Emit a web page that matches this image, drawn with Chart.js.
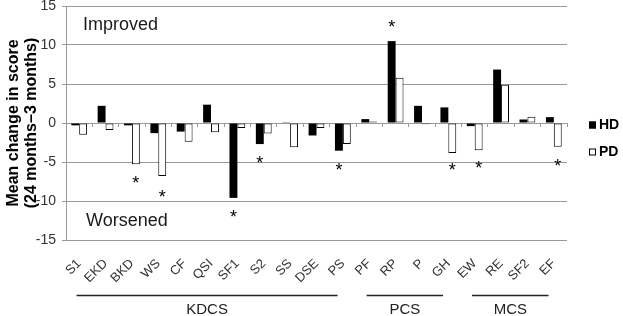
<!DOCTYPE html>
<html>
<head>
<meta charset="utf-8">
<script src="https://cdn.jsdelivr.net/npm/chart.js@4.4.0/dist/chart.umd.min.js"></script>
<style>
  html, body { margin: 0; padding: 0; background: #fff; }
</style>
</head>
<body>
<canvas id="myChart" width="623" height="316"></canvas>
<script>
// data
const categories = ['S1', 'EKD', 'BKD', 'WS', 'CF', 'QSI', 'SF1', 'S2', 'SS', 'DSE', 'PS',
  'PF', 'RP', 'P', 'GH', 'EW', 'RE', 'SF2', 'EF'];
const hdValues = [-0.3, 2.2, -0.3, -1.3, -1.1, 2.35, -9.6, -2.7, 0.1, -1.6, -3.55,
  0.5, 10.5, 2.2, 2.0, -0.4, 6.85, 0.45, 0.75];
const pdValues = [-1.5, -0.9, -5.3, -6.8, -2.4, -1.2, -0.65, -1.35, -3.1, -0.65, -2.7,
  0.2, 5.8, -0.15, -3.85, -3.5, 4.9, 0.8, -3.05];
// significance markers: which bar, and at what value
const starSeries = [null, null, 'PD', 'PD', null, null, 'HD', 'HD', null, null, 'HD',
  null, 'HD', null, 'PD', 'PD', null, null, 'PD'];
const starValues = [null, null, -7.2, -9.0, null, null, -11.6, -4.65, null, null, -5.55,
  null, 12.8, null, -5.6, -5.35, null, null, -5.1];
const groupNames = ['KDCS', 'PCS', 'MCS'];
const groupFirst = [0, 11, 15];
const groupLast = [10, 14, 18];
const yTicks = [-15, -10, -5, 0, 5, 10, 15];

const FONT = "'Liberation Sans', Arial, sans-serif";
const gridColor = '#9a9a9a';

const extras = {
  id: 'extras',
  afterDatasetsDraw(chart) {
    const c = chart.ctx;
    const x = chart.scales.x, y = chart.scales.y;
    const area = chart.chartArea;
    c.save();

    // asterisks
    c.fillStyle = '#000';
    c.font = '18px ' + FONT;
    c.textAlign = 'center';
    c.textBaseline = 'alphabetic';
    const m = c.measureText('*');
    const shift = (m.actualBoundingBoxAscent - m.actualBoundingBoxDescent) / 2;
    starSeries.forEach((s, i) => {
      if (!s) return;
      const dsIndex = chart.data.datasets.findIndex(d => d.label === s);
      const bar = chart.getDatasetMeta(dsIndex).data[i];
      c.fillText('*', bar.x, y.getPixelForValue(starValues[i]) + shift);
    });

    // Improved / Worsened
    c.fillStyle = '#1a1a1a';
    c.font = '18px ' + FONT;
    c.textAlign = 'left';
    c.textBaseline = 'middle';
    c.fillText('Improved', area.left + 17, y.getPixelForValue(12.5));
    c.fillText('Worsened', area.left + 20, y.getPixelForValue(-12.6));

    // group brackets under the axis
    c.strokeStyle = '#222';
    c.lineWidth = 1.5;
    c.fillStyle = '#222';
    c.font = '15px ' + FONT;
    c.textAlign = 'center';
    groupNames.forEach((name, g) => {
      const x1 = x.getPixelForValue(groupFirst[g] - 0.1);
      const x2 = x.getPixelForValue(groupLast[g] - 0.2);
      const ly = area.bottom + 55.5;
      c.beginPath();
      c.moveTo(x1, ly);
      c.lineTo(x2, ly);
      c.stroke();
      c.fillText(name, (x1 + x2) / 2, area.bottom + 70);
    });

    // legend
    c.font = 'bold 14px ' + FONT;
    c.textAlign = 'left';
    c.textBaseline = 'middle';
    chart.data.datasets.forEach((ds, i) => {
      const ly = 125 + i * 27;
      const lx = area.right + 22;
      c.fillStyle = ds.backgroundColor;
      c.fillRect(lx, ly - 3.5, 7, 7);
      c.strokeStyle = '#000';
      c.lineWidth = 1;
      c.strokeRect(lx + 0.5, ly - 3, 6, 6);
      c.fillStyle = '#000';
      c.fillText(ds.label, lx + 10, ly + 0.5);
    });
    c.restore();
  }
};

const ctx = document.getElementById('myChart').getContext('2d');
const myChart = new Chart(ctx, {
  type: 'bar',
  data: {
    labels: categories,
    datasets: [{
      label: 'HD',
      data: hdValues,
      backgroundColor: '#000000',
      borderWidth: 0
    }, {
      label: 'PD',
      data: pdValues,
      backgroundColor: '#ffffff',
      borderColor: '#000000',
      borderWidth: 1,
      borderSkipped: false
    }]
  },
  options: {
    responsive: false,
    animation: false,
    layout: { padding: { top: 6, right: 56, left: 0, bottom: 0 } },
    datasets: { bar: { categoryPercentage: 0.6, barPercentage: 1 } },
    plugins: {
      legend: { display: false },
      tooltip: { enabled: false }
    },
    scales: {
      x: {
        grid: { display: false },
        border: { display: false },
        ticks: {
          autoSkip: false,
          maxRotation: 45,
          minRotation: 45,
          padding: 8,
          color: '#333',
          font: { family: FONT, size: 13 }
        },
        afterFit: s => { s.height = 76; s.paddingLeft = 0; s.paddingRight = 0; }
      },
      x2: {
        type: 'category',
        labels: categories,
        position: { y: 0 },
        offset: true,
        grid: { offset: true, drawOnChartArea: false, drawTicks: true, tickLength: 4, color: gridColor },
        ticks: { display: false },
        border: { display: false }
      },
      y: {
        min: -15,
        max: 15,
        afterBuildTicks: s => { s.ticks = yTicks.map(v => ({ value: v })); },
        grid: { color: gridColor, tickLength: 4 },
        border: { color: gridColor },
        ticks: {
          padding: 6,
          color: '#333',
          font: { family: FONT, size: 14 }
        },
        title: {
          display: true,
          text: ['Mean change in score', '(24 months\u20133 months)'],
          color: '#000',
          font: { family: FONT, size: 16, weight: 'bold', lineHeight: 1.1 },
          padding: { top: 5, bottom: 0 }
        },
        afterFit: s => { s.width = 66; s.paddingTop = 0; s.paddingBottom = 0; }
      }
    }
  },
  plugins: [extras]
});
</script>
</body>
</html>
